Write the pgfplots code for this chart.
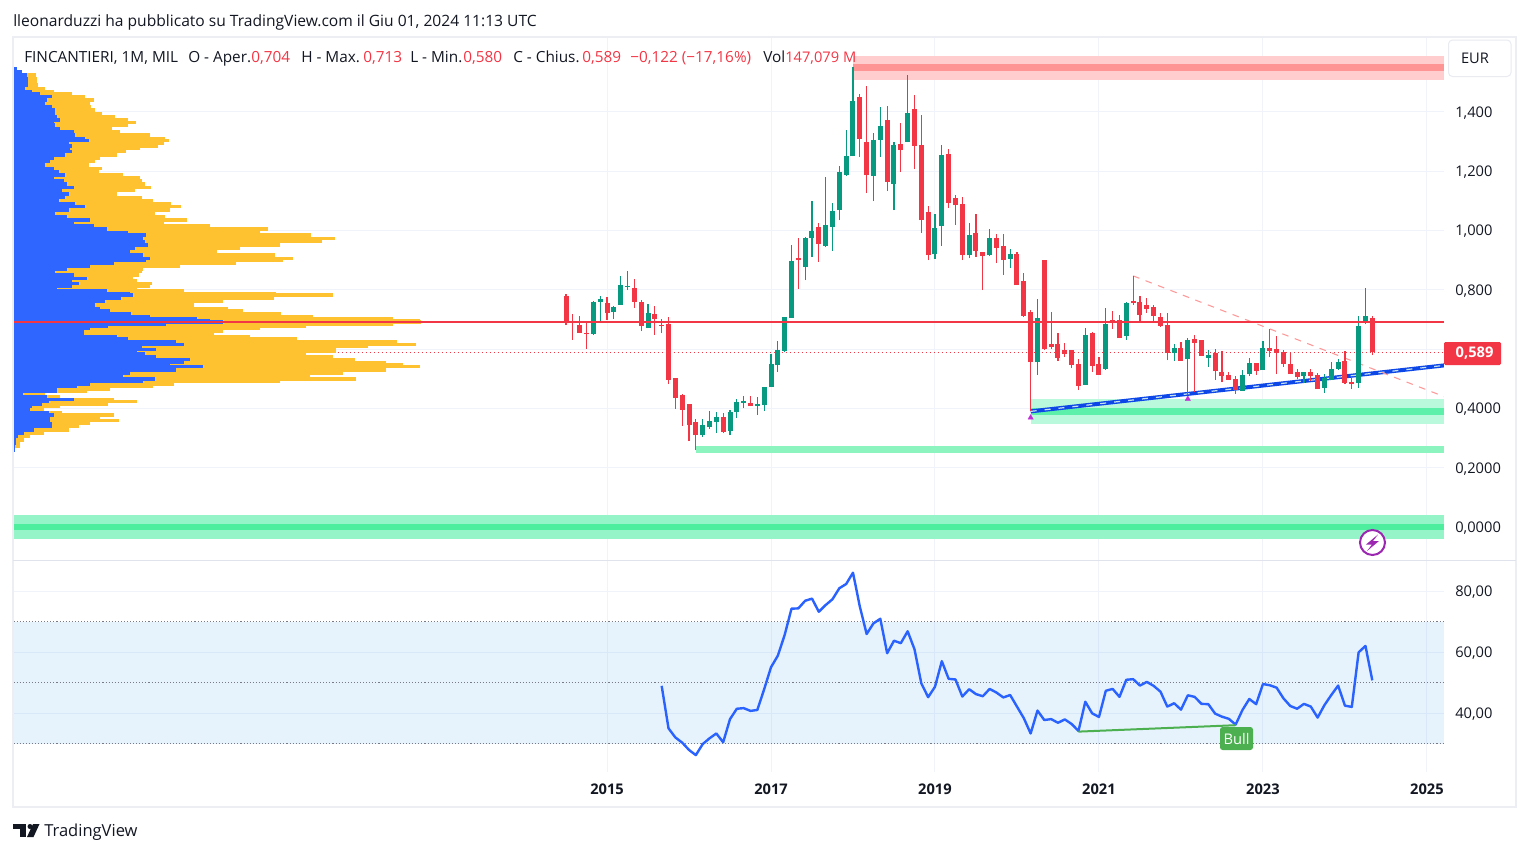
\documentclass[border=0pt]{standalone}
\usepackage{fontspec}
\setmainfont{Open Sans}
\usepackage{pgfplots}
\usepackage{pgfplotstable}
\pgfplotsset{compat=1.18}

\definecolor{candleup}{HTML}{089981}
\definecolor{candledn}{HTML}{F23645}
\definecolor{gridc}{HTML}{F0F3FA}
\definecolor{framec}{HTML}{E0E3EB}
\definecolor{textc}{HTML}{131722}
\definecolor{volblue}{HTML}{2E66FF}
\definecolor{volyel}{HTML}{FEC12F}
\definecolor{rsiblue}{HTML}{2962FF}
\definecolor{trendblue}{HTML}{0D47E8}
\definecolor{purp}{HTML}{9C27B0}
\definecolor{trimark}{HTML}{C22DD6}
\definecolor{bullc}{HTML}{4CAF50}
\definecolor{dotc}{HTML}{787B86}
\newcommand{\pxfont}{\fontsize{11pt}{13pt}\selectfont}
\newcommand{\hdfont}{\fontsize{11.5pt}{13pt}\selectfont}

% month index: 0 = Jan 2015
\pgfplotstableread{
m o h l c
-2 .651 .762 .648 .759
-1 .759 .779 .692 .769
1 .725 .745 .702 .742
2 .749 .847 .749 .816
3 .810 .863 .799 .813
6 .671 .752 .671 .722
14 .310 .364 .304 .344
15 .337 .391 .331 .358
16 .354 .388 .317 .371
18 .324 .395 .310 .388
19 .388 .432 .368 .422
20 .419 .442 .401 .425
22 .408 .438 .378 .415
23 .411 .472 .391 .472
24 .472 .583 .472 .550
25 .546 .627 .523 .597
26 .594 .708 .590 .708
27 .705 .951 .705 .897
29 .877 .978 .833 .975
30 .975 1.099 .911 .998
32 .948 1.180 .944 1.019
33 1.012 1.093 .931 1.066
34 1.069 1.218 1.035 1.197
35 1.187 1.339 1.184 1.251
36 1.251 1.551 1.251 1.437
39 1.184 1.329 1.099 1.305
40 1.305 1.417 1.248 1.352
42 1.157 1.298 1.069 1.288
44 1.298 1.524 1.298 1.396
48 .921 1.056 .904 1.008
49 1.015 1.288 .948 1.255
53 .917 1.025 .907 .985
56 .917 1.005 .914 .975
59 .904 .938 .873 .921
63 .556 .769 .513 .705
70 .479 .671 .479 .648
73 .533 .739 .530 .685
76 .644 .759 .631 .755
83 .587 .617 .560 .604
85 .567 .637 .445 .631
88 .570 .597 .540 .580
93 .459 .530 .459 .513
94 .516 .570 .509 .553
96 .530 .627 .530 .604
102 .509 .523 .486 .523
105 .469 .516 .452 .503
106 .496 .556 .496 .533
107 .533 .567 .530 .556
110 .486 .712 .469 .678
111 .695 .806 .685 .712
}\upT

\pgfplotstableread{
m o h l c
-6 .779 .786 .681 .692
-5 .695 .718 .631 .690
-4 .681 .712 .654 .654
-3 .655 .689 .600 .651
0 .755 .776 .698 .722
4 .806 .836 .739 .759
5 .759 .766 .661 .678
7 .718 .745 .648 .702
8 .682 .702 .654 .678
9 .685 .708 .482 .496
10 .503 .503 .398 .435
11 .445 .449 .341 .395
12 .415 .415 .290 .344
13 .354 .364 .260 .310
17 .371 .384 .317 .320
21 .418 .442 .408 .408
28 .906 .975 .803 .900
31 1.012 1.025 .894 .954
37 1.450 1.460 1.248 1.309
38 1.298 1.487 1.126 1.187
41 1.373 1.420 1.133 1.164
43 1.292 1.363 1.197 1.271
45 1.410 1.457 1.207 1.285
46 1.288 1.390 .992 1.035
47 1.062 1.083 .900 .917
50 1.258 1.275 1.076 1.093
51 1.110 1.120 1.019 1.086
52 1.089 1.113 .900 .917
54 .992 1.056 .911 .931
55 .927 .927 .799 .914
57 .975 .988 .890 .941
58 .948 .988 .850 .900
60 .921 .927 .816 .816
61 .830 .857 .708 .712
62 .725 .732 .391 .556
64 .900 .900 .597 .600
65 .617 .725 .600 .607
66 .617 .654 .560 .570
67 .597 .621 .573 .583
68 .597 .597 .536 .546
69 .550 .567 .462 .476
71 .654 .658 .523 .543
72 .550 .573 .513 .513
74 .698 .729 .668 .691
75 .698 .715 .637 .637
77 .762 .847 .749 .755
78 .759 .779 .695 .715
79 .749 .772 .722 .735
80 .742 .749 .695 .712
81 .708 .722 .675 .678
82 .681 .722 .563 .587
84 .604 .624 .560 .560
86 .634 .648 .455 .621
87 .631 .631 .577 .577
89 .587 .600 .496 .526
90 .523 .594 .489 .509
91 .513 .523 .496 .496
92 .499 .509 .449 .462
95 .553 .553 .513 .526
97 .604 .668 .573 .594
98 .600 .644 .516 .587
99 .590 .597 .540 .550
100 .550 .587 .516 .516
101 .523 .533 .499 .506
103 .523 .533 .492 .509
104 .513 .519 .465 .465
108 .560 .594 .482 .486
109 .489 .509 .465 .482
112 .704 .713 .580 .589
}\dnT

% volume profile: price, up volume, total volume (width from left edge, px)
\pgfplotstableread{
p b t
1.547 3 3
1.536 8 8
1.524 13 22
1.513 14 23
1.502 14 23.5
1.491 14 24
1.480 11.5 31.5
1.468 18 40
1.463 26.5 58
1.451 38 71.5
1.440 33 80
1.429 31.5 76.5
1.418 38 78
1.406 41.5 81.5
1.395 41.5 88
1.384 43 101.5
1.373 46.5 115
1.365 40 122.5
1.356 41.5 115
1.345 46.5 98
1.333 60 106.5
1.322 61.5 136.5
1.311 71.5 151.5
1.303 75 155.5
1.294 55 150
1.285 58 145
1.277 56 126.5
1.266 58 113
1.255 51.5 103
1.243 40 86.5
1.232 36.5 81.5
1.221 31.5 75
1.210 40 88
1.198 45 85
1.187 51.5 110
1.179 40 126.5
1.168 50 128
1.157 53 131.5
1.146 60 137
1.134 48 121.5
1.123 55 103
1.112 51.5 128
1.101 45 140
1.089 61.5 158
1.080 71.5 168
1.069 55 156.5
1.058 41.5 141.5
1.047 53 151.5
1.035 76.5 173
1.024 60 150
1.016 80 196.5
1.005 93 255
.994 115 246.5
.985 133 298
.974 130 321.5
.962 131.5 308
.951 135 266.5
.940 121.5 226.5
.928 116.5 203
.917 130 261.5
.906 136.5 280
.900 133 270
.889 100 223
.878 76.5 166.5
.869 53 130
.861 41.5 128
.850 60 125
.839 73 120
.831 58 123
.822 65 138
.813 58 136.5
.805 43 123
.797 93 170
.788 116.5 263
.782 120 319
.771 108 260
.760 91.5 210
.749 81.5 180
.738 86.5 215
.730 96.5 230
.721 118 268
.709 136.5 300
.702 183 380
.696 196.5 406.5
.691 210 408
.685 153 380
.678 95 293
.669 76.5 246.5
.661 70 210
.651 70 200
.642 103 236.5
.634 115 283
.625 163 383
.616 170 403
.608 128 355
.599 143 323
.591 123 323
.583 131.5 293
.574 143 320
.566 176.5 341.5
.555 170 373
.546 156.5 390
.541 190 406.5
.530 163 373
.518 116.5 330
.509 110 296.5
.499 141.5 343
.490 130 266.5
.481 76.5 160
.473 63 140
.465 43 96.5
.456 43 73
.447 9 31.5
.439 33 46.5
.431 60 100
.423 35 123
.414 28 95
.406 18 46.5
.397 16.5 30
.387 35 48
.378 40 100
.369 36.5 86.5
.360 36.5 105
.350 38 76.5
.338 38 65
.327 20 55
.316 10 30
.305 4 16.5
.293 2.5 10
.282 2.5 6.5
.271 1.5 6
.260 .5 1.5
}\volT

\pgfplotstableread{
m r
8 48.9
9 35.0
10 32.0
11 30.3
12 27.9
13 26.2
14 29.8
15 31.7
16 33.3
17 30.4
18 38.0
19 41.4
20 41.6
21 40.7
22 41.0
23 47.8
24 55.0
25 58.8
26 65.6
27 74.2
28 74.3
29 76.8
30 77.5
31 73.2
32 75.4
33 77.3
34 80.9
35 82.3
36 86.0
37 74.9
38 65.9
39 69.4
40 70.9
41 59.6
42 63.7
43 62.9
44 66.8
45 60.9
46 49.7
47 45.2
48 48.6
49 57.0
50 51.2
51 51.0
52 45.4
53 47.8
54 46.2
55 45.5
56 47.9
57 46.7
58 45.1
59 45.9
60 42.1
61 38.3
62 33.3
63 40.8
64 37.7
65 38.0
66 36.8
67 37.9
68 36.4
69 34.1
70 43.7
71 39.9
72 38.7
73 47.3
74 47.9
75 45.3
76 50.9
77 51.1
78 49.0
79 50.2
80 48.9
81 47.0
82 42.1
83 43.2
84 41.1
85 45.8
86 45.3
87 43.0
88 42.9
89 39.8
90 38.8
91 38.1
92 36.2
93 41.0
94 44.6
95 42.9
96 49.5
97 49.1
98 48.3
99 44.8
100 42.3
101 41.4
102 43.0
103 42.1
104 38.5
105 42.6
106 45.9
107 49.0
108 42.4
109 42.0
110 59.9
111 62.0
112 50.7
}\rsiT

\pgfplotsset{
  tvaxis/.style={
    scale only axis,
    width=1072.875pt,
    xmin=-86.86, xmax=122.49,
    axis line style={draw=none},
    major tick length=0pt,
    grid=major,
    major grid style={gridc, line width=.75pt},
    xtick={0,24,48,72,96,120},
    yticklabel pos=right,
    /pgf/number format/assume math mode=true,
    yticklabel style={anchor=west, font=\pxfont, text=textc, xshift=5pt, yshift=-.75pt},
    clip=true,
  },
  zone/.style={fill=#1, draw=none, forget plot},
  wick/.style={draw=none, mark=none, forget plot, error bars/.cd, y dir=plus, y explicit,
    error mark=none, error bar style={line width=.9pt, color=#1}},
  body/.style={draw=none, mark=none, forget plot, error bars/.cd, y dir=plus, y explicit,
    error mark=none, error bar style={line width=3.75pt, color=#1}},
  volbar/.style={draw=none, mark=none, forget plot, error bars/.cd, x dir=plus, x explicit,
    error mark=none, error bar style={line width=2.5pt, color=#1}},
}

\begin{document}
\begin{tikzpicture}
\fill[white] (0,0) rectangle (1146.75pt,-640.5pt);
\useasboundingbox (0,0) rectangle (1146.75pt,-640.5pt);

% price pane
\begin{axis}[tvaxis,
    at={(10.125pt,-27.75pt)}, anchor=north west,
    height=392.25pt,
    ymin=-.1113, ymax=1.6526,
    xticklabels={},
    ytick={0,.2,.4,.6,.8,1,1.2,1.4},
    yticklabels={{0,0000},{0,2000},{0,4000},{},{0,800},{1,000},{1,200},{1,400}},
]
\addplot[candledn, line width=.9pt, dash pattern=on 1.2pt off 1.8pt, forget plot] coordinates {(-86.86,.589) (122.49,.589)};

% volume profile
\addplot[volbar=volyel] table[x expr=-86.86, y=p, x error plus expr=\thisrow{t}/6.833] {\volT};
\addplot[volbar=volblue] table[x expr=-86.86, y=p, x error plus expr=\thisrow{b}/6.833] {\volT};

% zones
\definecolor{zr1}{HTML}{FFCDCD}\definecolor{zr2}{HTML}{FF9494}
\definecolor{zg1}{HTML}{BBF9DD}\definecolor{zg2}{HTML}{5DF0AA}
\definecolor{zg3}{HTML}{8CF4BE}\definecolor{zg4}{HTML}{96F5C8}\definecolor{zg5}{HTML}{4DEE9E}
\addplot[zone=zr1] coordinates {(36,1.590) (122.49,1.590) (122.49,1.508) (36,1.508)};
\addplot[zone=zr2] coordinates {(36,1.5605) (122.49,1.5605) (122.49,1.538) (36,1.538)};
\addplot[zone=zg1] coordinates {(62,.431) (122.49,.431) (122.49,.348) (62,.348)};
\addplot[zone=zg2] coordinates {(62,.401) (122.49,.401) (122.49,.378) (62,.378)};
\addplot[zone=zg3] coordinates {(13,.273) (122.49,.273) (122.49,.249) (13,.249)};
\addplot[zone=zg4] coordinates {(-86.86,.040) (122.49,.040) (122.49,-.041) (-86.86,-.041)};
\addplot[zone=zg5] coordinates {(-86.86,.010) (122.49,.010) (122.49,-.010) (-86.86,-.010)};

% trend lines
\addplot[trendblue, line width=3pt, forget plot] coordinates {(62,.390) (122.49,.545)};
\addplot[black!30!cyan!25!white, line width=.9pt, dash pattern=on 4.5pt off 6pt, forget plot] coordinates {(62,.390) (122.49,.545)};
\addplot[red!40, line width=.8pt, dash pattern=on 5pt off 5pt, forget plot] coordinates {(77,.847) (122.49,.440)};

% candles
\addplot[wick=candleup] table[x=m, y=l, y error plus expr=\thisrow{h}-\thisrow{l}] {\upT};
\addplot[wick=candledn] table[x=m, y=l, y error plus expr=\thisrow{h}-\thisrow{l}] {\dnT};
\addplot[body=candleup] table[x=m, y=o, y error plus expr=\thisrow{c}-\thisrow{o}] {\upT};
\addplot[body=candledn] table[x=m, y=c, y error plus expr=\thisrow{o}-\thisrow{c}] {\dnT};

\addplot[candledn, line width=1.5pt, forget plot] coordinates {(-86.86,.691) (122.49,.691)};
\addplot[only marks, color=trimark, mark=triangle*, mark size=2.4pt, mark options={fill=trimark, draw=trimark, line width=.1pt}, forget plot]
  coordinates {(62,.369) (85,.432)};
\end{axis}

% RSI pane
\begin{axis}[tvaxis,
    at={(10.125pt,-420pt)}, anchor=north west,
    height=159pt,
    ymin=20.66, ymax=90.16,
    xticklabels={2015,2017,2019,2021,2023,2025},
    xticklabel style={font=\pxfont\bfseries, text=textc, yshift=-5.25pt},
    ytick={40,60,80},
    yticklabels={{40,00},{60,00},{80,00}},
]
\definecolor{rsifill}{HTML}{2196F3}
\addplot[fill=rsifill, fill opacity=.11, draw=none, forget plot]
  coordinates {(-86.86,30) (122.49,30) (122.49,70) (-86.86,70)};
\addplot[dotc, line width=.8pt, dash pattern=on .8pt off 1.5pt, forget plot] coordinates {(-86.86,70) (122.49,70)};
\addplot[dotc, line width=.8pt, dash pattern=on .8pt off 1.5pt, forget plot] coordinates {(-86.86,50) (122.49,50)};
\addplot[dotc, line width=.8pt, dash pattern=on .8pt off 1.5pt, forget plot] coordinates {(-86.86,30) (122.49,30)};
\addplot[rsiblue, line width=1.8pt, line join=round, forget plot] table[x=m, y=r] {\rsiT};
\addplot[bullc, line width=1.5pt, forget plot] coordinates {(69,33.9) (92,36.0)};
\end{axis}

% everything else in screen pixels
\begin{scope}[x=.75pt, y=-.75pt, every node/.style={inner sep=0pt, font=\pxfont, text=textc}]
\draw[framec!60, line width=1.5pt] (13,37) rectangle (1516,807);
\draw[framec, line width=.75pt] (13,560) -- (1516,560);

\node[anchor=base west, font=\fontsize{11.7pt}{13pt}\selectfont] at (13,26) {lleonarduzzi ha pubblicato su TradingView.com il Giu 01, 2024 11:13 UTC};

\node[anchor=base west, font=\hdfont] at (24,62) {FINCANTIERI, 1M, MIL};
\node[anchor=base west, font=\hdfont] at (188,62) {O - Aper.};
\node[anchor=base west, font=\hdfont, text=candledn] at (251,62) {0,704};
\node[anchor=base west, font=\hdfont] at (301,62) {H - Max.};
\node[anchor=base west, font=\hdfont, text=candledn] at (363,62) {0,713};
\node[anchor=base west, font=\hdfont] at (410,62) {L - Min.};
\node[anchor=base west, font=\hdfont, text=candledn] at (463,62) {0,580};
\node[anchor=base west, font=\hdfont] at (513,62) {C - Chius.};
\node[anchor=base west, font=\hdfont, text=candledn] at (582,62) {0,589};
\node[anchor=base west, font=\hdfont, text=candledn] at (630,62) {−0,122 (−17,16\%)};
\node[anchor=base west, font=\hdfont] at (763,62) {Vol};
\node[anchor=base west, text=candledn] at (785,62) {147,079 M};

\draw[framec!70, fill=white, rounded corners=3pt, line width=.75pt] (1448.5,40) rectangle (1511,76.5);
\node at (1475,58) {EUR};

\fill[candledn, rounded corners=1pt] (1444,342) rectangle (1501,365);
\node[text=white, font=\pxfont\bfseries] at (1474.5,353) {0,589};

\draw[purp, fill=white, line width=1.5pt] (1372.5,542.5) circle (12.5);
\fill[purp] (1378,534.5) -- (1366,544.5) -- (1372,544.5) -- (1367,551) -- (1379,541) -- (1373,541) -- cycle;

\fill[bullc, rounded corners=2pt] (1220,727) rectangle (1253,750);
\node[text=white] at (1236.5,738.5) {Bull};

% TradingView logo
\fill[textc] (13,824) rectangle (26,829);
\fill[textc] (20,824) rectangle (26,837);
\fill[textc] (30,826.5) circle (2.5);
\fill[textc] (33,824) -- (39.5,824) -- (33.5,837) -- (27,837) -- cycle;
\node[anchor=base west, font=\fontsize{12.4pt}{14pt}\selectfont] at (44,836) {TradingView};
\end{scope}
\end{tikzpicture}
\end{document}
